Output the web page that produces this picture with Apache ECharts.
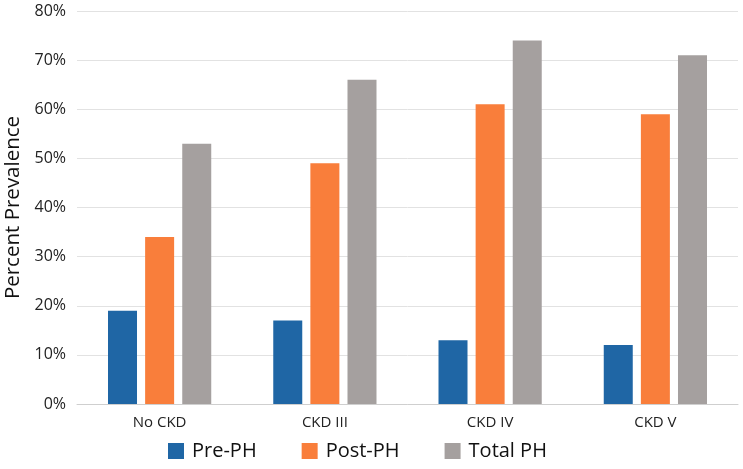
<!DOCTYPE html>
<html><head><meta charset="utf-8">
<script src="https://cdn.jsdelivr.net/npm/echarts@6/dist/echarts.min.js"></script>
<style>html,body{margin:0;padding:0;background:#fff}#c{width:743px;height:469px}</style>
</head><body><div id="c"></div>
<script>
const categories = ['No CKD', 'CKD III', 'CKD IV', 'CKD V'];
const prePH = [19, 17, 13, 12];
const postPH = [34, 49, 61, 59];
const totalPH = [53, 66, 74, 71];
const seriesNames = ['Pre-PH', 'Post-PH', 'Total PH'];
const colors = ['#1f66a5', '#f97e3b', '#a5a09f'];
const font = '"Open Sans", "Noto Sans", sans-serif';
const chart = echarts.init(document.getElementById('c'));
const mk = (name, data, i) => ({
  name, type: 'bar', data, barWidth: 29, barGap: '28%',
  itemStyle: { color: colors[i] }
});
chart.setOption({
  animation: false,
  textStyle: { fontFamily: font },
  grid: { left: 77, right: 5, top: 11, bottom: 65, containLabel: false, outerBoundsMode: 'none' },
  legend: {
    bottom: 3, left: 163, itemWidth: 16, itemHeight: 16, itemGap: 45,
    textStyle: { fontSize: 20, color: '#111', fontFamily: font, padding: [0, 0, 0, 3] },
    data: seriesNames.map(n => ({ name: n, icon: 'rect' }))
  },
  xAxis: {
    type: 'category', data: categories,
    axisLine: { lineStyle: { color: '#cfcfcf' } },
    axisTick: { show: false },
    axisLabel: { fontSize: 15, color: '#222', margin: 11, fontFamily: font }
  },
  yAxis: {
    type: 'value', min: 0, max: 80, interval: 10,
    name: 'Percent Prevalence', nameLocation: 'middle', nameGap: 53,
    nameTextStyle: { fontSize: 20.5, color: '#111', fontFamily: font },
    axisLabel: { formatter: '{value}%', fontSize: 16, color: '#222', margin: 11, fontFamily: font },
    splitLine: { lineStyle: { color: '#e2e2e2' } },
    axisLine: { show: false }, axisTick: { show: false }
  },
  series: [mk(seriesNames[0], prePH, 0), mk(seriesNames[1], postPH, 1), mk(seriesNames[2], totalPH, 2)]
});
</script></body></html>
